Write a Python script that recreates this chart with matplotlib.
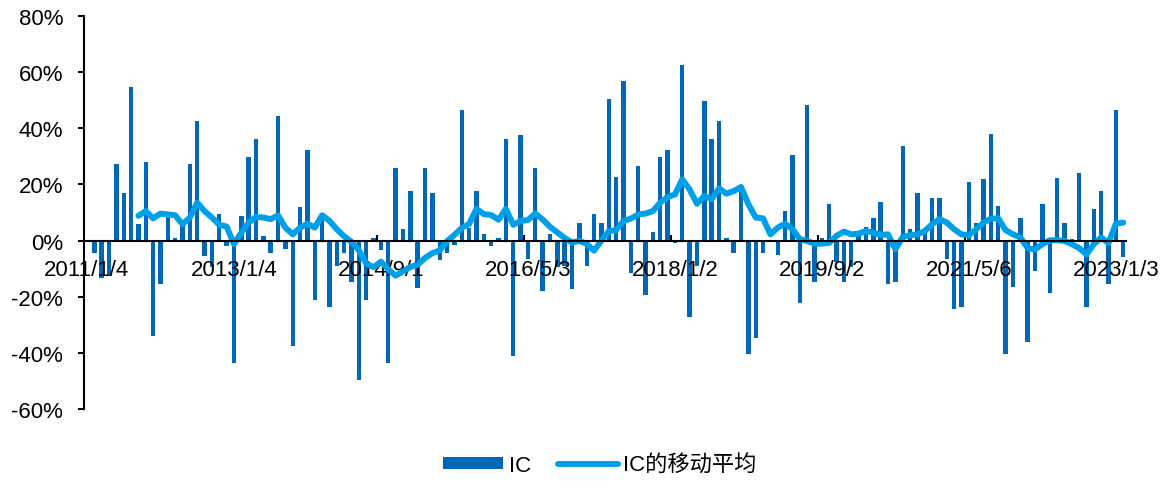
import matplotlib
matplotlib.use('Agg')
import matplotlib.pyplot as plt
import numpy as np

plt.rcParams['font.family'] = ['Liberation Sans', 'Noto Sans CJK SC', 'DejaVu Sans']

# IC values (%), one per period
ic = [-4.3, -13.2, -12.5, 27.3, 17.0, 54.7, 5.8, 28.1, -34.0, -15.6,
      9.5, 0.9, 5.2, 27.4, 42.6, -5.4, -9.4, 9.6, -2.0, -43.7,
      8.9, 29.8, 36.1, 1.5, -4.4, 44.2, -3.0, -37.4, 12.0, 32.3,
      -21.3, 9.2, -23.7, -9.2, -4.4, -14.9, -49.8, -21.1, 0.8, -3.4,
      -43.6, 25.7, 4.0, 17.6, -17.0, 25.7, 16.9, -6.8, -4.4, -1.5,
      46.4, 4.5, 17.6, 2.5, -1.9, 0.8, 36.1, -41.0, 37.6, -6.6,
      25.7, -17.9, 2.5, -9.6, -9.2, -17.2, 6.4, -9.2, 9.6, 6.4,
      50.4, 22.5, 56.7, -11.4, 26.5, -19.4, 3.2, 29.7, 32.1, -1.0,
      62.4, -27.3, -9.0, 49.6, 36.1, 42.5, 0.8, -4.3, 19.2, -40.5,
      -34.7, -4.3, 0.3, -5.1, 10.5, 30.5, -22.1, 48.2, -14.9, 1.0,
      12.9, -7.5, -14.9, -9.4, 2.0, 5.0, 8.2, 13.7, -15.5, -14.7,
      33.6, 4.0, 16.9, 3.0, 15.3, 15.3, -6.6, -24.4, -23.5, 20.9,
      6.4, 21.8, 37.8, 12.2, -40.4, -16.4, 8.2, -36.2, -10.8, 12.9,
      -18.6, 22.4, 6.4, 0.5, 24.1, -23.5, 11.4, 17.6, -15.5, 46.4,
      -5.8]

# moving average of IC (%), starts at the 7th period
ma_start = 6
ic_ma = [8.8, 10.5, 7.9, 9.6, 9.3, 9.0, 5.8, 8.2, 13.5, 10.5,
         8.2, 5.6, 5.0, -1.3, 2.8, 6.4, 8.4, 8.2, 7.6, 9.0,
         4.6, 2.2, 4.6, 6.0, 4.6, 9.0, 7.0, 4.0, 1.5, -0.5,
         -3.5, -8.2, -9.5, -7.5, -10.3, -12.5, -11.0, -9.4, -8.6, -6.2,
         -4.5, -3.5, -0.2, 2.0, 4.5, 5.9, 11.3, 9.4, 9.1, 7.4,
         11.3, 5.6, 7.0, 7.3, 9.6, 7.5, 4.9, 2.9, 0.9, -0.7,
         -0.1, -1.2, -3.6, 0.0, 3.3, 3.7, 7.0, 7.8, 9.3, 9.6,
         10.5, 13.5, 15.5, 16.4, 21.8, 18.2, 13.1, 15.9, 14.7, 18.6,
         16.7, 17.6, 19.1, 12.9, 8.2, 7.9, 2.2, 4.6, 6.0, 4.0,
         0.5, -0.2, -1.1, -1.1, -0.8, 1.7, 3.2, 2.2, 2.5, 3.4,
         2.8, 2.0, 2.2, -3.1, 1.3, 1.9, 2.2, 3.4, 5.8, 7.6,
         6.4, 4.0, 2.2, 1.9, 4.0, 6.4, 7.8, 7.9, 3.7, 2.2,
         1.1, -2.7, -3.2, -1.3, 0.1, 0.1, -0.1, -1.3, -2.7, -4.9,
         -1.3, 1.1, -0.9, 6.0, 6.4]

date_labels = ['2011/1/4', '2013/1/4', '2014/9/1', '2016/5/3',
               '2018/1/2', '2019/9/2', '2021/5/6', '2023/1/3']
label_pos = [20 * k - 1 for k in range(len(date_labels))]

bar_color = '#0068B7'
line_color = '#00A0E9'

fig = plt.figure(figsize=(11.67, 4.89), dpi=100)
ax = fig.add_axes([0.072, 0.1616, 0.893, 0.8037])

x = np.arange(len(ic))
bars = ax.bar(x, ic, width=0.6, color=bar_color, label='IC', zorder=1)
x_ma = np.arange(ma_start, ma_start + len(ic_ma))
line, = ax.plot(x_ma, ic_ma, color=line_color, lw=4.3, solid_joinstyle='round',
                solid_capstyle='round', label='IC的移动平均', zorder=2)

ax.set_xlim(-1.4, 140.4)
ax.set_ylim(-60, 80)
ax.set_yticks(np.arange(-60, 81, 20))
ax.set_yticklabels(['%d%%' % v for v in range(-60, 81, 20)])

# axis styling: left spine + category axis sitting on zero
for s in ['top', 'right']:
    ax.spines[s].set_visible(False)
ax.spines['left'].set_linewidth(1.5)
ax.spines['bottom'].set_position(('data', 0))
ax.spines['bottom'].set_linewidth(1.5)
ax.tick_params(axis='y', direction='out', length=4, width=1.5, labelsize=16, pad=11)
ax.set_xticks(label_pos)
ax.set_xticklabels(date_labels)
ax.tick_params(axis='x', which='major', length=0, labelsize=16, pad=13)
ax.set_xticks([p - 0.5 for p in label_pos[1:]], minor=True)
ax.tick_params(axis='x', which='minor', direction='in', length=4, width=1.5)

fig.legend(handles=[bars, line], loc='lower center', bbox_to_anchor=(0.514, -0.016),
           ncol=2, frameon=False, fontsize=16, handlelength=2.7, handleheight=0.5,
           handletextpad=0.25, columnspacing=1.2)

plt.savefig('out.png', dpi=100)
